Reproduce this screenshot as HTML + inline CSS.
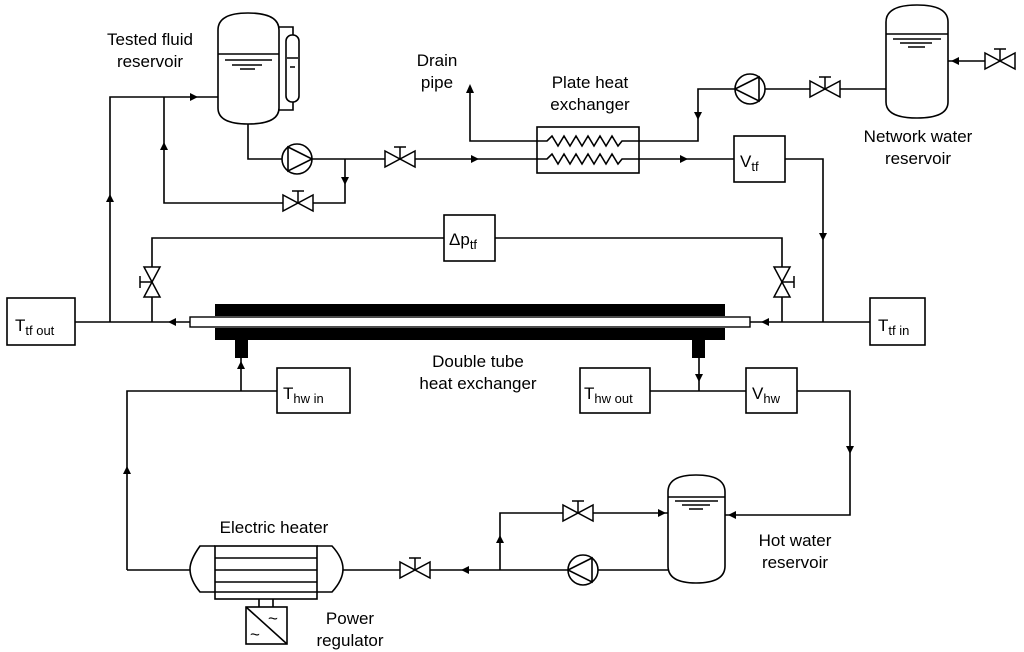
<!DOCTYPE html>
<html><head><meta charset="utf-8"><style>
html,body{margin:0;padding:0;background:#fff}
svg{display:block}
text{font-family:"Liberation Sans",sans-serif;font-size:17px;fill:#000}
</style></head><body>
<svg width="1024" height="652" viewBox="0 0 1024 652" xmlns="http://www.w3.org/2000/svg">
<defs>
<g id="vh"><path d="M-15,-8 L-15,8 L15,-8 L15,8 Z" fill="#fff" stroke="#000" stroke-width="1.5"/><path d="M0,0 V-12 M-6,-12 H6" stroke="#000" stroke-width="1.5"/></g>
<g id="vv"><path d="M-8,-15 L8,-15 L-8,15 L8,15 Z" fill="#fff" stroke="#000" stroke-width="1.5"/><path d="M0,0 H-12 M-12,-6 V6" stroke="#000" stroke-width="1.5"/></g>
</defs>
<g fill="none" stroke="#000" stroke-width="1.6">
<path d="M218,30 Q218,13 248,13 Q279,13 279,30 L279,108 Q279,124 248,124 Q218,124 218,108 Z" fill="#fff"/>
<path d="M218,54 H279 M225,60 H272 M232,65 H262 M240,69 H255"/>
<path d="M279,27 H293 V35 M279,110 H293 V102"/>
<rect x="286" y="35" width="13" height="67" rx="6" fill="#fff"/>
<path d="M287,58 H298 M290,67 H295"/>
<path d="M110,322 V97 H218 M164,97 V203 H345 V159"/>
<path d="M248,124 V159 H282 M312,159 H537"/>
<circle cx="297" cy="159" r="15" fill="#fff"/>
<path d="M288,147 L312,159 L288,171 Z"/>
<path d="M470,90 V141 H537"/>
<rect x="537" y="127" width="102" height="46" fill="#fff"/>
<path d="M537,141 H547 l5,-5 l6,10 l6,-10 l6,10 l6,-10 l6,10 l6,-10 l6,10 l6,-10 l6,10 l6,-10 l6,10 l4,-5 H639"/>
<path d="M537,159 H547 l5,-5 l6,10 l6,-10 l6,10 l6,-10 l6,10 l6,-10 l6,10 l6,-10 l6,10 l6,-10 l6,10 l4,-5 H639"/>
<path d="M639,141 H698 V89 H735 M765,89 H886"/>
<circle cx="750" cy="89" r="15" fill="#fff"/>
<path d="M759,77 L735,89 L759,101 Z"/>
<path d="M639,159 H734 M785,159 H823 V322"/>
<rect x="734" y="136" width="51" height="46" fill="#fff"/>
<path d="M886,22 Q886,5 917,5 Q948,5 948,22 L948,102 Q948,118 917,118 Q886,118 886,102 Z" fill="#fff"/>
<path d="M886,34 H948 M893,39 H941 M900,43 H932 M908,47 H925"/>
<path d="M948,61 H1000"/>
<path d="M152,322 V238 H444 M495,238 H782 V322"/>
<rect x="444" y="215" width="51" height="46" fill="#fff"/>
<path d="M75,322 H190 M750,322 H870"/>
<rect x="7" y="298" width="68" height="47" fill="#fff"/>
<rect x="870" y="298" width="55" height="47" fill="#fff"/>
<path d="M241,358 V391 M127,570 V391 H277 M650,391 H746 M699,358 V391 M797,391 H850 V515 H725"/>
<rect x="277" y="368" width="73" height="45" fill="#fff"/>
<rect x="580" y="368" width="70" height="45" fill="#fff"/>
<rect x="746" y="368" width="51" height="45" fill="#fff"/>
<path d="M127,570 H190 M343,570 H568 M598,570 H668 M500,570 V513 H668"/>
<circle cx="583" cy="570" r="15" fill="#fff"/>
<path d="M592,558 L568,570 L592,582 Z"/>
<path d="M668,492 Q668,475 696,475 Q725,475 725,492 L725,566 Q725,583 696,583 Q668,583 668,566 Z" fill="#fff"/>
<path d="M668,497 H725 M675,501 H718 M682,505 H710 M689,509 H703"/>
<path d="M215,546 H200 Q190,560 190,569 Q190,580 200,592 H215 M317,546 H332 Q343,558 343,569 Q343,580 332,592 H317"/>
<rect x="215" y="546" width="102" height="53" fill="#fff"/>
<path d="M215,558 H317 M215,570 H317 M215,582 H317 M215,592 H317"/>
<path d="M259,599 V607 M273,599 V607"/>
<rect x="246" y="607" width="41" height="37" fill="#fff"/>
<path d="M246,607 L287,644"/>
</g>
<rect x="215" y="304" width="510" height="12" fill="#000"/>
<rect x="215" y="328" width="510" height="12" fill="#000"/>
<rect x="190" y="317" width="560" height="10" fill="#fff" stroke="#000" stroke-width="1.4"/>
<rect x="235" y="340" width="13" height="18" fill="#000"/>
<rect x="692" y="340" width="13" height="18" fill="#000"/>
<use href="#vh" x="298" y="203"/>
<use href="#vh" x="400" y="159"/>
<use href="#vh" x="825" y="89"/>
<use href="#vh" x="1000" y="61"/>
<use href="#vh" x="578" y="513"/>
<use href="#vh" x="415" y="570"/>
<use href="#vv" x="152" y="282"/>
<g transform="translate(782,282) scale(-1,1)"><use href="#vv"/></g>
<g fill="#000">
<path d="M198,97 l-8,-4 v8z"/>
<path d="M110,194 l-4,8 h8z"/>
<path d="M164,142 l-4,8 h8z"/>
<path d="M345,185 l-4,-8 h8z"/>
<path d="M479,159 l-8,-4 v8z"/>
<path d="M470,84 l-4,9 h8z"/>
<path d="M698,120 l-4,-8 h8z"/>
<path d="M688,159 l-8,-4 v8z"/>
<path d="M823,241 l-4,-8 h8z"/>
<path d="M951,61 l8,-4 v8z"/>
<path d="M168,322 l8,-4 v8z"/>
<path d="M761,322 l8,-4 v8z"/>
<path d="M241,361 l-4,8 h8z"/>
<path d="M699,382 l-4,-8 h8z"/>
<path d="M850,454 l-4,-8 h8z"/>
<path d="M728,515 l8,-4 v8z"/>
<path d="M127,466 l-4,8 h8z"/>
<path d="M666,513 l-8,-4 v8z"/>
<path d="M500,535 l-4,8 h8z"/>
<path d="M461,570 l8,-4 v8z"/>
</g>
<text x="268" y="624" font-size="12">~</text>
<text x="250" y="640" font-size="12">~</text>
<g text-anchor="middle">
<text x="150" y="45">Tested fluid</text><text x="150" y="67">reservoir</text>
<text x="437" y="66">Drain</text><text x="437" y="88">pipe</text>
<text x="590" y="88">Plate heat</text><text x="590" y="110">exchanger</text>
<text x="918" y="142">Network water</text><text x="918" y="164">reservoir</text>
<text x="478" y="367">Double tube</text><text x="478" y="389">heat exchanger</text>
<text x="274" y="533">Electric heater</text>
<text x="795" y="546">Hot water</text><text x="795" y="568">reservoir</text>
<text x="350" y="624">Power</text><text x="350" y="646">regulator</text>
</g>
<text x="15" y="331" font-size="20">T<tspan font-size="13" dy="4">tf out</tspan></text>
<text x="878" y="331" font-size="20">T<tspan font-size="13" dy="4">tf in</tspan></text>
<text x="740" y="167" font-size="20">V<tspan font-size="13" dy="4">tf</tspan></text>
<text x="449" y="245" font-size="20">Δp<tspan font-size="13" dy="4">tf</tspan></text>
<text x="283" y="399" font-size="20">T<tspan font-size="13" dy="4">hw in</tspan></text>
<text x="584" y="399" font-size="20">T<tspan font-size="13" dy="4">hw out</tspan></text>
<text x="752" y="399" font-size="20">V<tspan font-size="13" dy="4">hw</tspan></text>
</svg>
</body></html>
